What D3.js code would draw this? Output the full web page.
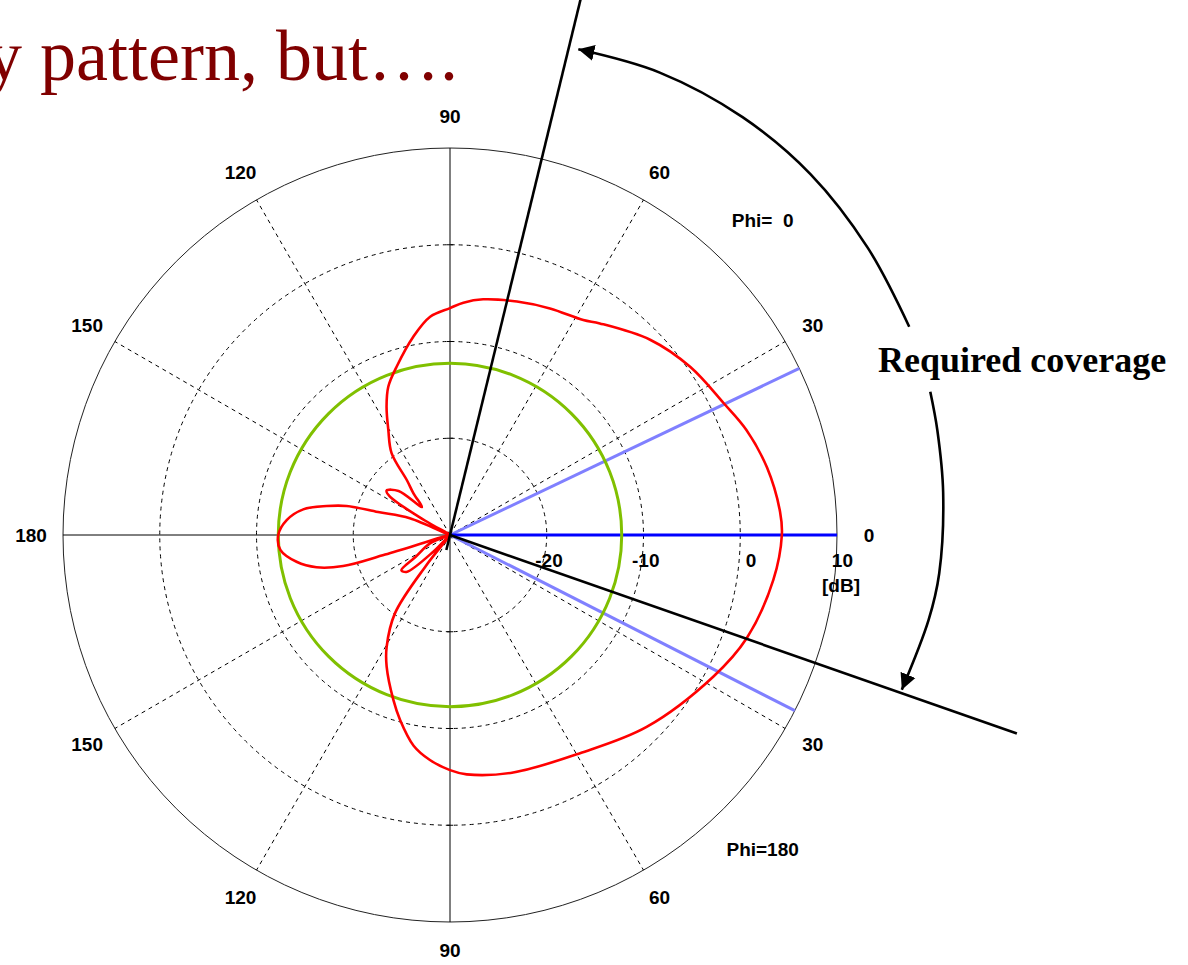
<!DOCTYPE html>
<html>
<head>
<meta charset="utf-8">
<script src="https://cdn.jsdelivr.net/npm/d3@7"></script>
<style>
  html, body { margin: 0; padding: 0; background: #fff; }
  svg { display: block; }
  .lbl { font-family: "Liberation Sans", Arial, sans-serif; font-weight: bold; font-size: 19px; fill: #000; white-space: pre; }
</style>
</head>
<body>
<div id="chart"></div>
<script>
// ring levels in dB (center = -30, outer = +10)
const ringLevels = [-20, -10, 0, 10];
const dbLabels = ["-20", "-10", "0", "10"];
const spokeAngles = [30, 60, 120, 150, 210, 240, 300, 330];
const angleTicks = [0, 30, 60, 90, 120, 150, 180, 210, 240, 270, 300, 330];
const angleTickLabels = ["0", "30", "60", "90", "120", "150", "180", "150", "120", "90", "60", "30"];

// measured pattern (polar angle in deg, gain in dB)
const patternAngles = [0, 4, 12, 19.5, 25.7, 35, 44.3, 54.7, 58.2, 66.2, 74, 82, 86.7, 90, 95.2, 100.6, 107.6, 112.6, 116.3, 120.4, 125.5, 128.2, 131.3, 135, 139.4, 145, 147.4, 150, 153, 157.4, 162.3, 164.3, 166.8, 170.1, 174.8, 180, 185, 189.9, 193.6, 196.2, 196.8, 198.5, 202.5, 212.4, 215.9, 220.3, 225, 229, 232, 234.9, 240.5, 244.3, 251, 254.9, 260.2, 264.9, 270, 274, 284.9, 300.8, 315.7, 331.7, 340.8, 352.1];
const patternGain = [4.3, 4.2, 3.5, 2.5, 1.4, 0.3, -1.1, -3.2, -3.85, -4.4, -4.9, -5.4, -5.95, -6.55, -7.35, -9.2, -11.75, -13.4, -15.2, -17.4, -19.6, -22.8, -24.3, -25.9, -23, -22, -22.6, -27, -30, -25.5, -22.2, -18.9, -16.9, -14.6, -13.05, -12.25, -12.4, -13.9, -15.8, -18.5, -23, -30, -27.8, -25.8, -23.8, -24.1, -27.6, -30, -26, -20.1, -16.7, -14.9, -12, -10.2, -7.9, -6.65, -5.7, -5.2, -4.6, -3.75, -1.6, 0.9, 2.47, 3.74];

// reference level circle (dB)
const referenceLevel = [-12.25];
// beam directions (deg)
const boresight = [0];
const beamEdges = [25.5, 333];
// required coverage limits (deg) and the arrow arc (deg, radius as fraction of plot radius)
const coverageAngles = [76.3, -19.3];
const coverageReach = [1.43, 1.552];
const arcUpperAngles = [75.2, 65.6, 55, 45, 34.5, 24.4];
const arcUpperRadius = [1.298, 1.312, 1.318, 1.318, 1.31, 1.303];
const arcLowerAngles = [16.6, 12.1, 4.9, -4.5, -10.1, -18.9];
const arcLowerRadius = [1.295, 1.288, 1.279, 1.268, 1.256, 1.234];

document.addEventListener("DOMContentLoaded", () => {
  const width = 1188, height = 965;
  const cx = 450, cy = 535, R = 387;
  const rad = a => (90 - a) * Math.PI / 180; // plot angle -> d3 radial angle

  const svg = d3.select("#chart").append("svg")
    .attr("width", width).attr("height", height);

  svg.append("defs").append("marker")
    .attr("id", "head")
    .attr("viewBox", "-16 -9 18 18")
    .attr("markerUnits", "userSpaceOnUse")
    .attr("markerWidth", 18).attr("markerHeight", 18)
    .attr("refX", 0).attr("refY", 0)
    .attr("orient", "auto-start-reverse")
    .append("path").attr("d", "M0,0L-16,-8L-16,8Z").attr("fill", "#000");

  // title (cut off at the left, as on the slide)
  svg.append("text")
    .attr("x", -14).attr("y", 80)
    .attr("font-family", "'Liberation Serif', 'Times New Roman', serif")
    .attr("font-size", 72)
    .attr("fill", "#800000")
    .text("y pattern, but….");

  const r = d3.scaleLinear().domain([-30, 10]).range([0, R]).clamp(true);
  const g = svg.append("g").attr("transform", `translate(${cx},${cy})`);
  const px = (a, rr) => [rr * Math.cos(a * Math.PI / 180), -rr * Math.sin(a * Math.PI / 180)];

  // grid rings
  g.selectAll(".ring").data(ringLevels).join("circle")
    .attr("r", d => r(d))
    .attr("fill", "none")
    .attr("stroke", d => d === 10 ? "#222" : "#000")
    .attr("stroke-width", 1)
    .attr("stroke-dasharray", d => d === 10 ? null : "4,4");

  // spokes
  g.selectAll(".spoke").data(spokeAngles).join("line")
    .attr("x1", 0).attr("y1", 0)
    .attr("x2", d => px(d, R)[0]).attr("y2", d => px(d, R)[1])
    .attr("stroke", "#000").attr("stroke-width", 1).attr("stroke-dasharray", "4,4");

  // main axes
  g.append("line").attr("x1", -R).attr("x2", R).attr("y1", 0).attr("y2", 0).attr("stroke", "#000");
  g.append("line").attr("y1", -R).attr("y2", R).attr("x1", 0).attr("x2", 0).attr("stroke", "#000");
  g.selectAll(".vtick").data(ringLevels.slice(0, 3).flatMap(d => [r(d), -r(d)])).join("line")
    .attr("x1", -3).attr("x2", 3).attr("y1", d => d).attr("y2", d => d).attr("stroke", "#000");

  // angle labels
  g.selectAll(".alabel").data(angleTicks).join("text")
    .attr("class", "lbl")
    .attr("x", d => px(d, 419)[0]).attr("y", d => px(d, d === 270 ? 415 : 419)[1])
    .attr("text-anchor", "middle").attr("dominant-baseline", "central")
    .text((d, i) => angleTickLabels[i]);

  // dB labels
  g.selectAll(".dblabel").data(ringLevels).join("text")
    .attr("class", "lbl")
    .attr("x", d => r(d) + 16).attr("y", 25)
    .attr("text-anchor", "end").attr("dominant-baseline", "central")
    .text((d, i) => dbLabels[i]);
  g.append("text").attr("class", "lbl")
    .attr("x", r(10) + 4).attr("y", 50)
    .attr("text-anchor", "middle").attr("dominant-baseline", "central")
    .text("[dB]");

  g.append("text").attr("class", "lbl")
    .attr("x", px(45, 445)[0] - 2).attr("y", px(45, 445)[1])
    .attr("text-anchor", "middle").attr("dominant-baseline", "central")
    .text("Phi=  0");
  g.append("text").attr("class", "lbl")
    .attr("x", px(-45, 445)[0] - 2).attr("y", px(-45, 445)[1])
    .attr("text-anchor", "middle").attr("dominant-baseline", "central")
    .text("Phi=180");

  // beam lines
  g.selectAll(".edge").data(beamEdges).join("line")
    .attr("x1", 0).attr("y1", 0)
    .attr("x2", d => px(d, R)[0]).attr("y2", d => px(d, R)[1])
    .attr("stroke", "#8080ff").attr("stroke-width", 3);
  g.selectAll(".bore").data(boresight).join("line")
    .attr("x1", 0).attr("y1", 0)
    .attr("x2", d => px(d, R)[0]).attr("y2", d => px(d, R)[1])
    .attr("stroke", "#0000ff").attr("stroke-width", 3);

  // reference circle
  g.selectAll(".ref").data(referenceLevel).join("circle")
    .attr("r", d => r(d))
    .attr("fill", "none").attr("stroke", "#80c000").attr("stroke-width", 3);

  // pattern
  const pattern = patternAngles.map((a, i) => [a, patternGain[i]]);
  const radial = d3.lineRadial()
    .angle(d => rad(d[0]))
    .radius(d => r(d[1]))
    .curve(d3.curveCatmullRomClosed.alpha(0.5));
  g.append("path").datum(pattern)
    .attr("d", radial)
    .attr("fill", "none").attr("stroke", "#ff0000").attr("stroke-width", 2.6)
    .attr("stroke-linejoin", "round");

  // required coverage lines
  g.selectAll(".cov").data(coverageAngles).join("line")
    .attr("x1", (d, i) => i === 0 ? px(d, -0.04 * R)[0] : 0)
    .attr("y1", (d, i) => i === 0 ? px(d, -0.04 * R)[1] : 0)
    .attr("x2", (d, i) => px(d, coverageReach[i] * R)[0])
    .attr("y2", (d, i) => px(d, coverageReach[i] * R)[1])
    .attr("stroke", "#000").attr("stroke-width", 2.6);

  // arrow arc, broken by the caption
  const arcLine = d3.lineRadial()
    .angle(d => rad(d[0]))
    .radius(d => d[1] * R)
    .curve(d3.curveCatmullRom.alpha(0.5));
  g.append("path").datum(arcUpperAngles.map((a, i) => [a, arcUpperRadius[i]]))
    .attr("d", arcLine)
    .attr("fill", "none").attr("stroke", "#000").attr("stroke-width", 2.6)
    .attr("marker-start", "url(#head)");
  g.append("path").datum(arcLowerAngles.map((a, i) => [a, arcLowerRadius[i]]))
    .attr("d", arcLine)
    .attr("fill", "none").attr("stroke", "#000").attr("stroke-width", 2.6)
    .attr("marker-end", "url(#head)");

  svg.append("text")
    .attr("x", 878).attr("y", 372)
    .attr("font-family", "'Liberation Serif', 'Times New Roman', serif")
    .attr("font-weight", "bold")
    .attr("font-size", 36)
    .attr("fill", "#000")
    .text("Required coverage");
});
</script>
</body>
</html>
